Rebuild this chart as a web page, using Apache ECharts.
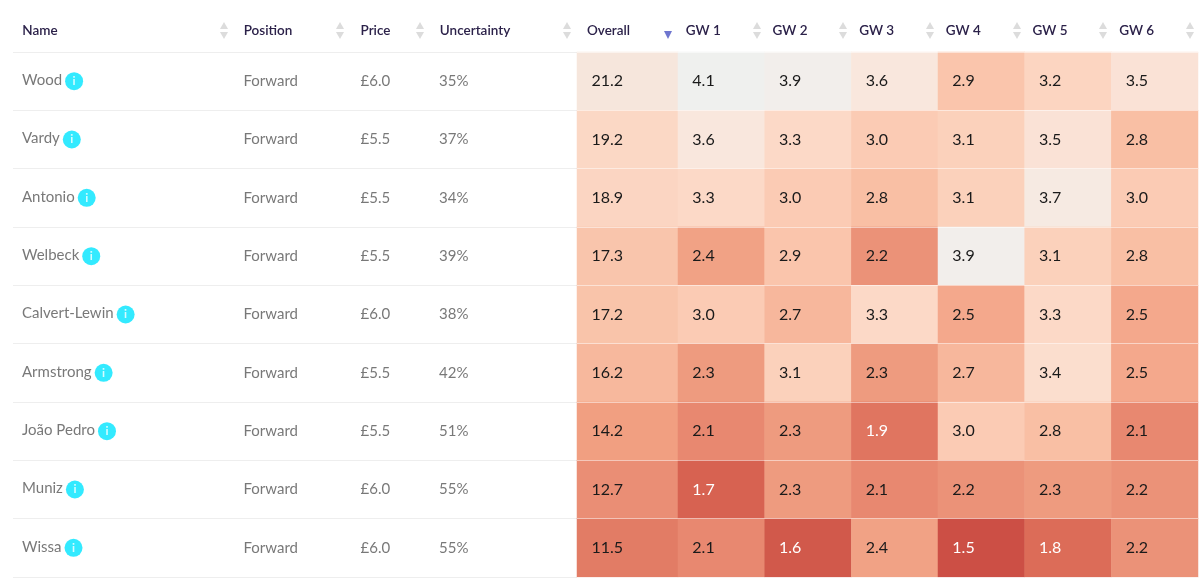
<!DOCTYPE html>
<html><head><meta charset="utf-8">
<style>html,body{margin:0;padding:0;background:#fff}#c{width:1200px;height:580px}</style>
<script src="https://cdn.jsdelivr.net/npm/echarts@6/dist/echarts.min.js"></script>
</head><body><div id="c"></div>
<script>
// ---- data ----
const players = ['Wood','Vardy','Antonio','Welbeck','Calvert-Lewin','Armstrong','João Pedro','Muniz','Wissa'];
const positions = ['Forward','Forward','Forward','Forward','Forward','Forward','Forward','Forward','Forward'];
const prices = ['£6.0','£5.5','£5.5','£5.5','£6.0','£5.5','£5.5','£6.0','£6.0'];
const uncertainty = ['35%','37%','34%','39%','38%','42%','51%','55%','55%'];
const overall = [21.2,19.2,18.9,17.3,17.2,16.2,14.2,12.7,11.5];
const gameweeks = ['GW 1','GW 2','GW 3','GW 4','GW 5','GW 6'];
const gw1 = [4.1,3.6,3.3,2.4,3.0,2.3,2.1,1.7,2.1];
const gw2 = [3.9,3.3,3.0,2.9,2.7,3.1,2.3,2.3,1.6];
const gw3 = [3.6,3.0,2.8,2.2,3.3,2.3,1.9,2.1,2.4];
const gw4 = [2.9,3.1,3.1,3.9,2.5,2.7,3.0,2.2,1.5];
const gw5 = [3.2,3.5,3.7,3.1,3.3,3.4,2.8,2.3,1.8];
const gw6 = [3.5,2.8,3.0,2.8,2.5,2.5,2.1,2.2,2.2];
const gwValues = [gw1,gw2,gw3,gw4,gw5,gw6];

// ---- layout and style ----
const TOP = 52, ROW_BOTTOM = 577;
const textCols = [
  {head:'Name',        vals:players,     left:13,  right:233, headPad:166, off:-101},
  {head:'Position',    vals:positions,   left:233, right:350, headPad:47,  off:-48},
  {head:'Price',       vals:prices,      left:350, right:429, headPad:28,  off:-29},
  {head:'Uncertainty', vals:uncertainty, left:429, right:577, headPad:56,  off:-64}
];
const gwColors = ['#cc4f45','#da6855','#e6806a','#ed9a7e','#f5ab8e','#f9bfa4','#fbcfb9','#fcdac8','#f9e6dc','#f3eeea','#eff0ee'];
const overallColors = ['#e27c65','#eb9177','#f1a082','#f6b196','#f9c2a8','#fbd2bd','#fbdccb','#f6e6dc'];
const HEAD = '#2b2149', BODY = '#565656';
const grids=[], xAxes=[], yAxes=[], series=[], visualMaps=[];

function axes(idx, cats, pad, rowLine){
  xAxes.push({type:'category',gridIndex:idx,position:'top',data:cats,axisLine:{show:false},axisTick:{show:false},splitLine:{show:false},
    axisLabel:{show:true,interval:0,margin:14,align:'center',padding:[0,pad,0,0],color:HEAD,fontFamily:'Lato',fontSize:13.5,fontWeight:600}});
  yAxes.push({type:'category',gridIndex:idx,inverse:true,data:players,z:rowLine.z,axisLine:{show:false},axisTick:{show:false},axisLabel:{show:false},
    splitLine:{show:true,interval:0,lineStyle:{color:rowLine.color,width:1}}});
}
textCols.forEach((c,i)=>{
  grids.push({left:c.left,width:c.right-c.left,top:TOP,height:ROW_BOTTOM-TOP});
  axes(i,[c.head],c.headPad,{color:'#eeeeee',z:0});
  series.push({type:'scatter',xAxisIndex:i,yAxisIndex:i,symbolSize:0,silent:true,
    data:c.vals.map((v,r)=>({value:[0,r],text:v})),
    label:{show:true,position:'inside',align:'left',verticalAlign:'middle',offset:[c.off,0],color:BODY,fontFamily:'Lato',fontSize:15,
      formatter:p=> i===0 ? `{n|${p.data.text}}{i|i}` : p.data.text,
      rich:{n:{color:BODY,fontFamily:'Lato',fontSize:15,padding:[0,3,2,0]},
            i:{width:18,height:18,lineHeight:18,borderRadius:9,backgroundColor:'#00e5ff',color:'#fff',align:'center',fontSize:12,fontWeight:700,fontFamily:'Lato'}}}});
});
function heat(idx, cats, rows, left, width, pad, off, colors, min, max){
  grids.push({left,width,top:TOP,height:ROW_BOTTOM-TOP});
  axes(idx,cats,pad,{color:'rgba(255,255,255,0.5)',z:3});
  series.push({type:'heatmap',xAxisIndex:idx,yAxisIndex:idx,silent:true,progressive:0,
    data:rows,label:{show:true,align:'left',offset:[off,0],color:'#1a1a1a',fontFamily:'Lato',fontSize:16,
      formatter:p=>p.value[2].toFixed(1)},z:2});
  visualMaps.push({type:'continuous',show:false,seriesIndex:series.length-1,dimension:2,min,max,inRange:{color:colors}});
}
const n = textCols.length;
heat(n,['Overall'],overall.map((v,r)=>({value:[0,r,v]})),577,101,38,-36,overallColors,11.5,21.2);
const gwData=[];
gwValues.forEach((col,c)=>col.forEach((v,r)=>gwData.push({value:[c,r,v],label:{color:v<2?'#ffffff':'#1a1a1a'}})));
heat(n+1,gameweeks,gwData,678,520,36,-29,gwColors,1.5,4.1);

// sort carets in the header
const caretXs=[224,340,420,567,757,843,930,1017,1103,1190];
const graphics=[];
const tri=(x,y,d,fill)=>({type:'polygon',silent:true,shape:{points:[[x-4,y],[x+4,y],[x,y+d]]},style:{fill}});
caretXs.forEach(x=>{graphics.push(tri(x,29,-7,'#dcdcdc'),tri(x,32,7,'#dcdcdc'));});
graphics.push(tri(668,31,8,'#6f76cf'));

echarts.init(document.getElementById('c'),null,{renderer:'canvas'}).setOption({
  animation:false,backgroundColor:'#ffffff',
  grid:grids,xAxis:xAxes,yAxis:yAxes,series,visualMap:visualMaps,graphic:graphics
});
</script></body></html>
